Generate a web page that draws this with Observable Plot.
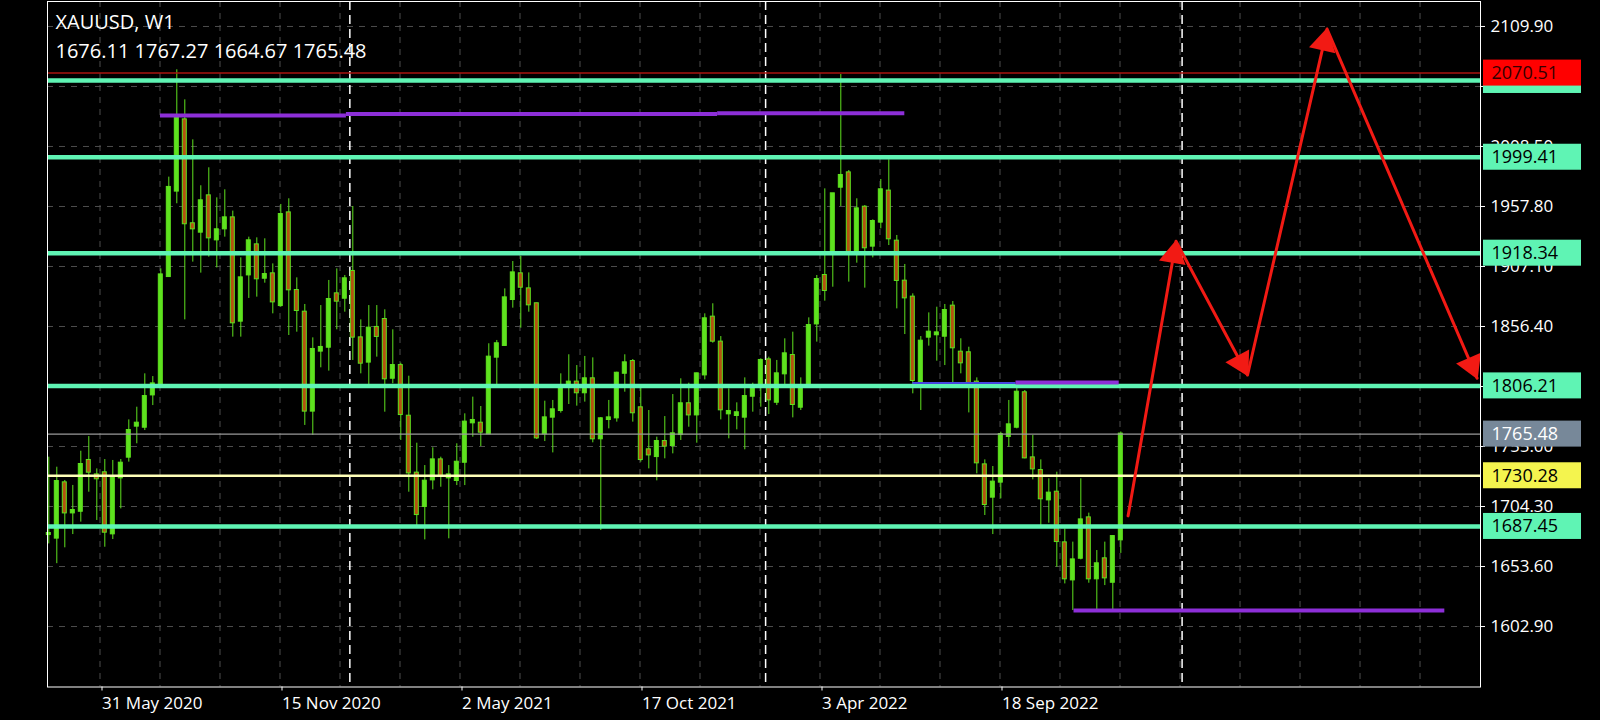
<!DOCTYPE html>
<html>
<head>
<meta charset="utf-8">
<script src="https://cdn.jsdelivr.net/npm/d3@7"></script>
<script src="https://cdn.jsdelivr.net/npm/@observablehq/plot@0.6"></script>
<style>
  html, body { margin: 0; padding: 0; background: #000; }
  svg { display: block; }
</style>
</head>
<body>
<script>
// ---------- data (weekly XAUUSD candles, bar index 0..134) ----------
const opens = [1680.6,1677.6,1724.3,1698.9,1700.3,1743.2,1731.0,1732.8,1681.2,1728.5,
1746.0,1772.2,1771.3,1798.6,1807.4,1898.6,1970.8,2031.0,1943.2,1936.1,
1966.8,1929.6,1938.9,1948.2,1860.9,1900.0,1925.4,1897.2,1900.9,1874.1,
1952.4,1886.8,1868.5,1784.9,1835.6,1838.9,1884.0,1880.3,1902.9,1846.8,
1826.3,1855.6,1862.3,1812.7,1823.4,1780.6,1732.5,1704.3,1726.8,1743.7,
1728.5,1726.3,1741.7,1775.0,1774.7,1765.7,1830.5,1840.4,1879.2,1900.9,
1888.2,1875.6,1765.7,1779.8,1785.4,1805.1,1809.4,1800.4,1812.2,1761.5,
1777.8,1779.2,1816.9,1826.8,1787.7,1752.2,1746.5,1759.2,1755.8,1765.1,
1791.1,1781.7,1815.5,1864.3,1843.2,1782.6,1781.2,1779.8,1797.5,1806.5,
1828.2,1792.4,1816.4,1831.9,1788.2,1806.5,1858.6,1899.5,1918.4,1974.1,
1986.2,1920.6,1957.2,1924.3,1944.6,1970.8,1928.5,1894.7,1881.2,1808.5,
1847.4,1849.4,1848.2,1873.6,1834.7,1834.2,1809.4,1739.5,1712.2,1724.9,
1763.5,1771.3,1800.4,1745.4,1734.7,1709.9,1716.4,1673.6,1642.3,1660.6,
1694.7,1643.2,1660.1,1640.3,1676.11];
const highs = [1746.0,1737.5,1726.3,1722.1,1751.0,1763.4,1736.1,1744.0,1743.2,1744.0,
1777.5,1788.2,1816.4,1814.1,1905.1,1982.6,2073.3,2047.9,2014.1,1975.3,
1990.5,1965.1,1971.9,1953.9,1914.4,1931.9,1931.3,1930.5,1909.3,1959.5,
1964.3,1897.5,1875.0,1846.8,1874.1,1895.3,1905.1,1899.5,1957.8,1862.0,
1874.1,1874.1,1870.5,1853.6,1825.4,1814.4,1757.8,1738.9,1753.9,1746.0,
1738.9,1757.3,1782.6,1796.7,1788.8,1841.8,1844.6,1888.2,1911.3,1915.6,
1901.7,1876.1,1793.3,1793.9,1816.4,1832.5,1823.4,1831.1,1829.9,1779.5,
1793.9,1817.8,1832.5,1828.5,1805.1,1785.4,1762.9,1780.3,1798.9,1812.2,
1808.5,1817.0,1867.1,1875.6,1847.9,1803.7,1791.9,1813.0,1808.5,1829.1,
1830.5,1827.7,1846.0,1851.6,1813.0,1863.7,1899.5,1972.7,1968.5,2069.3,
1988.2,1964.3,1958.6,1946.5,1980.6,1997.2,1933.3,1908.8,1884.0,1847.9,
1867.9,1872.7,1875.0,1877.5,1846.0,1838.9,1813.0,1743.7,1738.1,1767.1,
1793.9,1804.6,1802.3,1764.3,1743.7,1727.7,1733.3,1685.4,1674.2,1727.7,
1698.7,1667.1,1674.2,1679.8,1767.27];
const lows = [1672.7,1656.0,1669.4,1680.6,1691.1,1716.4,1692.5,1669.9,1676.4,1702.3,
1741.8,1757.3,1768.5,1789.6,1806.5,1898.1,1960.1,1862.0,1910.8,1901.5,
1915.0,1905.9,1931.9,1847.4,1847.4,1880.1,1881.2,1893.0,1867.1,1872.7,
1848.8,1851.6,1772.8,1764.3,1821.5,1818.7,1853.6,1868.5,1827.7,1816.4,
1806.5,1830.5,1784.0,1808.0,1760.1,1716.4,1688.2,1676.1,1718.4,1720.6,
1677.0,1722.0,1722.0,1762.9,1755.0,1765.1,1807.4,1839.5,1871.9,1855.0,
1868.5,1760.9,1759.2,1749.6,1783.2,1790.5,1789.1,1792.5,1758.1,1684.0,
1769.9,1775.6,1800.9,1775.6,1741.8,1736.1,1726.0,1744.6,1748.8,1760.1,
1771.3,1757.8,1811.3,1842.3,1777.5,1761.5,1769.1,1752.2,1784.0,1788.2,
1782.0,1789.6,1807.4,1779.2,1785.4,1805.7,1843.2,1877.8,1889.6,1957.8,
1893.9,1909.9,1888.8,1914.4,1938.9,1924.8,1871.3,1849.6,1799.5,1785.4,
1839.8,1827.1,1823.4,1808.5,1816.4,1783.4,1731.9,1696.7,1680.6,1710.8,
1754.4,1769.9,1744.6,1726.8,1688.2,1690.2,1653.0,1638.9,1616.4,1659.2,
1639.5,1617.0,1637.5,1617.0,1664.67];
const closes = [1681.5,1725.4,1698.9,1700.9,1739.8,1733.3,1727.7,1682.6,1729.6,1740.9,
1768.5,1774.7,1797.2,1807.9,1900.0,1973.9,2032.7,1943.2,1938.9,1962.6,
1931.3,1938.1,1948.2,1859.5,1897.5,1928.8,1896.7,1900.3,1877.2,1951.0,
1887.4,1869.9,1784.9,1837.0,1838.7,1879.2,1877.8,1896.7,1847.4,1825.4,
1855.0,1848.0,1812.2,1823.4,1782.0,1732.7,1697.5,1725.7,1743.7,1730.5,
1731.0,1741.7,1775.6,1777.0,1767.1,1830.5,1841.8,1880.6,1901.7,1889.6,
1874.7,1762.3,1779.2,1786.0,1803.7,1809.4,1800.4,1812.2,1761.5,1778.4,
1779.2,1816.9,1825.7,1783.5,1744.0,1747.9,1759.2,1755.3,1765.7,1791.1,
1781.7,1816.4,1862.9,1844.0,1786.0,1784.6,1783.5,1797.2,1803.7,1827.7,
1794.4,1816.4,1833.3,1790.5,1806.5,1857.2,1896.1,1886.8,1968.5,1984.0,
1919.8,1955.8,1922.9,1945.1,1971.9,1930.5,1895.3,1880.6,1810.8,1844.0,
1851.6,1851.0,1869.9,1838.4,1825.7,1808.5,1741.2,1706.0,1724.9,1765.1,
1773.3,1800.9,1745.4,1736.1,1710.8,1715.6,1674.7,1643.2,1659.2,1693.0,
1643.2,1655.9,1644.0,1678.9,1765.48];

// axis ticks
const yTicks = [2109.90, 2059.20, 2008.50, 1957.80, 1907.10, 1856.40, 1805.70, 1755.00, 1704.30, 1653.60, 1602.90];
const yTicksHidden = [1805.70];                              // fully covered by a price box in the picture
const xTickLabels = ["31 May 2020", "15 Nov 2020", "2 May 2021", "17 Oct 2021", "3 Apr 2022", "18 Sep 2022"];
const xTickBars = [6.4, 28.9, 51.4, 73.9, 96.4, 118.9];     // bar position of each date label
const xGridBars = d3.range(6.4, 172, 7.5);                  // vertical grid every 7.5 bars
const separatorBars = [37.63, 89.6, 141.66];               // white dashed separators

// horizontal levels
const greenLevels = [2064.27, 1999.41, 1918.34, 1806.21, 1687.45];
const greenLabels = ["", "1999.41", "1918.34", "1806.21", "1687.45"];   // first box is hidden under the red one
const redLevel = 2070.51;
const greyLevel = 1765.48;
const yellowLevel = 1730.28;

// purple segments (bar start, bar end, price)
const purpleX1 = [13.96, 37.2, 83.6, 128.15, 120.9];
const purpleX2 = [37.2, 83.6, 107.0, 174.5, 133.8];
const purpleY  = [2034.7, 2036.0, 2036.6, 1616.4, 1809.0];
const blueX1 = [108.0], blueX2 = [120.9], blueY = [1808.6];

// red projection path (bar, price)
const arrowBars  = [134.91, 140.90, 149.84, 159.78, 178.53];
const arrowPrice = [1696.4, 1928.4, 1815.4, 2107.7, 1812.8];

// ---------- layout ----------
const W = 1600, H = 720;
const mL = 47, mR = 120, mT = 1, mB = 33.5;
const xDomain = [-0.1625, 178.96];
const yDomain = [1551.8, 2131.0];
const kx = (W - mL - mR) / (xDomain[1] - xDomain[0]);
const ky = (H - mT - mB) / (yDomain[1] - yDomain[0]);

const GREEN = "#5ee21e", BEAR = "#b4530f", LEVEL = "#5ff4b4", RED = "#f21a14";

const candles = opens.map((o, i) => ({i, open: o, high: highs[i], low: lows[i], close: closes[i]}));
const purple = purpleX1.map((x1, k) => ({x1, x2: purpleX2[k], y: purpleY[k]}));
const blue = blueX1.map((x1, k) => ({x1, x2: blueX2[k], y: blueY[k]}));
const arrowPts = arrowBars.map((b, k) => ({i: b, v: arrowPrice[k]}));
const heads = [];
for (let k = 1; k < arrowPts.length; k++) {
  const dxp = (arrowPts[k].i - arrowPts[k - 1].i) * kx;
  const dyp = -(arrowPts[k].v - arrowPts[k - 1].v) * ky;
  const len = Math.hypot(dxp, dyp), ux = dxp / len, uy = dyp / len;
  const back = 14;
  heads.push({i: arrowPts[k].i - ux * back / kx, v: arrowPts[k].v + uy * back / ky,
              rot: Math.atan2(ux, -uy) * 180 / Math.PI});
}

const boxes = [
  ...greenLevels.map((v, k) => ({v, label: greenLabels[k], bg: LEVEL, fg: "#000"})),
  {v: greyLevel, label: greyLevel.toFixed(2), bg: "#778899", fg: "#fff"},
  {v: yellowLevel, label: yellowLevel.toFixed(2), bg: "#f4f44e", fg: "#000"},
  {v: redLevel, label: redLevel.toFixed(2), bg: "#ff0000", fg: "#300"}
];
const boxMarks = boxes.flatMap(b => [
  Plot.rect([b], {x1: () => xDomain[1], x2: () => xDomain[1], y1: "v", y2: "v", fill: b.bg,
    insetLeft: 3, insetRight: -101, insetTop: -13, insetBottom: -13}),
  ...(b.label ? [Plot.text([b], {x: () => xDomain[1], y: "v", text: "label", dx: 11, textAnchor: "start",
    fill: b.fg, fontSize: 18, style: "letter-spacing:1.5px"})] : [])
]);

const last = candles[candles.length - 1];
const ohlcLine = [last.open, last.high, last.low, last.close].map(d => d.toFixed(2)).join(" ");

const chart = Plot.plot({
  width: W, height: H,
  marginLeft: mL, marginRight: mR, marginTop: mT, marginBottom: mB,
  style: {background: "#000", color: "#fff", fontFamily: "'Open Sans', sans-serif", fontSize: "17px", overflow: "visible"},
  x: {type: "linear", domain: xDomain},
  y: {domain: yDomain},
  marks: [
    Plot.gridY(yTicks, {stroke: "#4d4d4d", strokeOpacity: 1, strokeDasharray: "6,6"}),
    Plot.gridX(xGridBars, {stroke: "#4d4d4d", strokeOpacity: 1, strokeDasharray: "6,6"}),
    Plot.ruleX(separatorBars, {stroke: "#fff", strokeWidth: 1.5, strokeDasharray: "9,5"}),
    Plot.axisY({anchor: "right", ticks: yTicks, tickFormat: d => yTicksHidden.includes(d) ? "" : d.toFixed(2),
      tickSize: 4, tickPadding: 6, stroke: "#fff", fill: "#fff", fontSize: 17, label: null, style: "letter-spacing:1.5px"}),
    Plot.axisX({ticks: xTickBars, tickFormat: d => xTickLabels[xTickBars.indexOf(d)], textAnchor: "start",
      tickSize: 4, tickPadding: 6, dx: 2, stroke: "#fff", fill: "#fff", fontSize: 17, label: null}),
    // candles
    Plot.ruleX(candles, {x: "i", y1: "low", y2: "high", stroke: GREEN, strokeWidth: 1}),
    Plot.rect(candles, {x1: "i", x2: "i", y1: "open", y2: "close",
      fill: d => d.close >= d.open ? "bull" : "bear", stroke: GREEN, strokeWidth: 1,
      insetLeft: -2, insetRight: -2, insetTop: -0.5, insetBottom: -0.5}),
    // level lines
    Plot.ruleY([redLevel], {stroke: "#a8140f", strokeWidth: 1.5}),
    Plot.ruleY([greyLevel], {stroke: "#9a9a9a", strokeWidth: 1.2}),
    Plot.ruleY([yellowLevel], {stroke: "#ffffb8", strokeWidth: 2.5}),
    Plot.ruleY(greenLevels, {stroke: LEVEL, strokeWidth: 4.5}),
    Plot.ruleY(blue, {y: "y", x1: "x1", x2: "x2", stroke: "#4646e0", strokeWidth: 2}),
    Plot.ruleY(purple, {y: "y", x1: "x1", x2: "x2", stroke: "#8d2fd8", strokeWidth: 4}),
    // projection arrows
    Plot.line(arrowPts, {x: "i", y: "v", stroke: RED, strokeWidth: 3}),
    Plot.dot(heads, {x: "i", y: "v", rotate: "rot", symbol: "triangle", r: 10, fill: RED, stroke: "none"}),
    // frame and price boxes
    Plot.frame({stroke: "#fff", strokeWidth: 1}),
    ...boxMarks,
    // title
    Plot.text(["XAUUSD, W1"], {frameAnchor: "top-left", dx: 8, dy: 13, fill: "#fff", fontSize: 20}),
    Plot.text([ohlcLine], {frameAnchor: "top-left", dx: 8, dy: 42, fill: "#fff", fontSize: 20, style: "letter-spacing:0.6px"})
  ],
  color: {domain: ["bull", "bear"], range: [GREEN, BEAR]}
});
document.body.appendChild(chart);
</script>
</body>
</html>
